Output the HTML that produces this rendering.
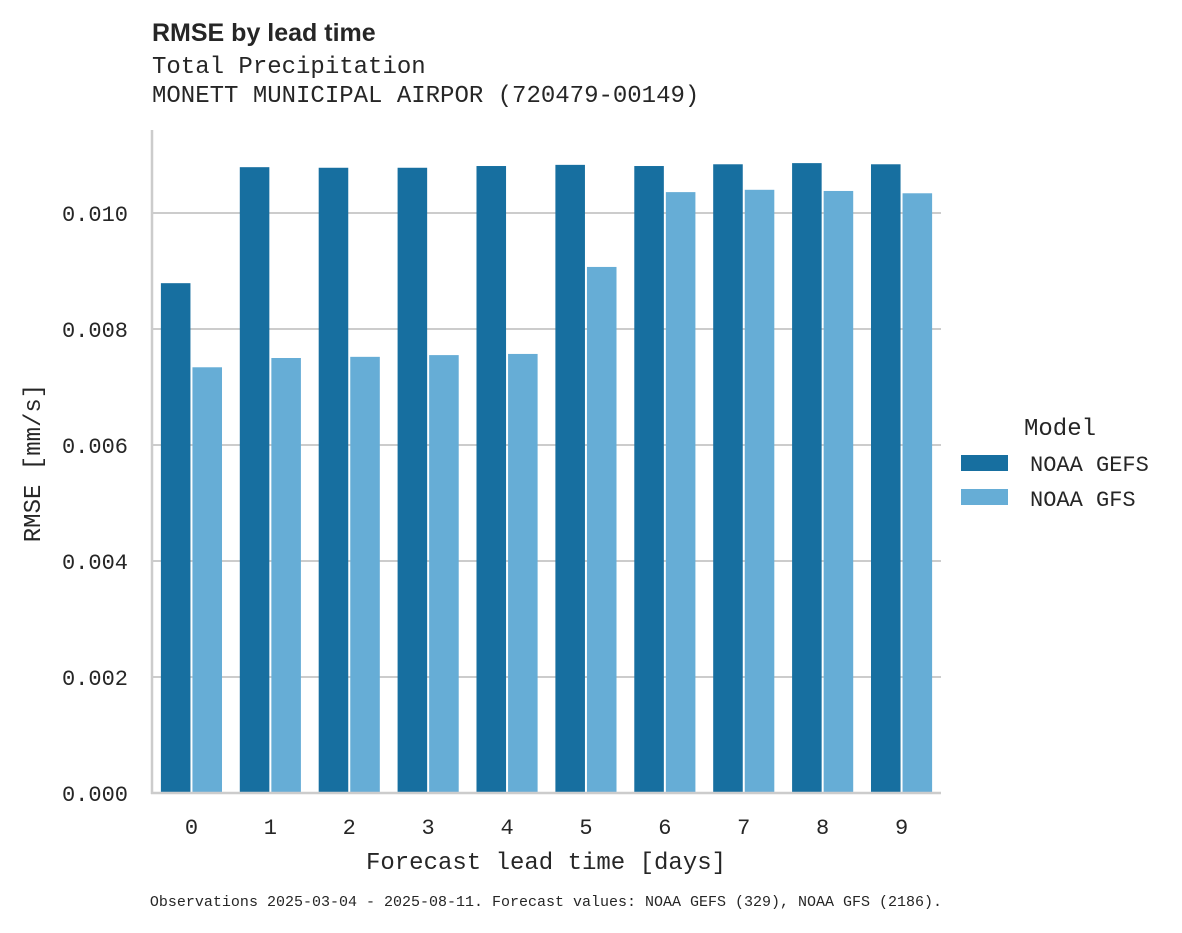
<!DOCTYPE html>
<html><head><meta charset="utf-8"><style>
body{margin:0;background:#fff;width:1182px;height:928px;overflow:hidden}
text{fill:#262626}
.mono{font-family:"Liberation Mono","DejaVu Sans Mono",monospace}
</style></head><body>
<svg id="chart" width="1182" height="928" xmlns="http://www.w3.org/2000/svg">
<text x="152" y="41" font-family="Liberation Sans, DejaVu Sans, sans-serif" font-weight="bold" font-size="25">RMSE by lead time</text>
<text class="mono" x="152" y="73" font-size="24">Total Precipitation</text>
<text class="mono" x="152" y="102" font-size="24">MONETT MUNICIPAL AIRPOR (720479-00149)</text>
<g id="grid"></g>
<g id="bars"></g>
<line x1="152" y1="130" x2="152" y2="794" stroke="#cccccc" stroke-width="2.5"/>
<line x1="151" y1="793" x2="941" y2="793" stroke="#cccccc" stroke-width="2.5"/>
<g id="ticks"></g>
<text class="mono" x="546" y="869" font-size="24" text-anchor="middle">Forecast lead time [days]</text>
<text class="mono" x="40" y="463" font-size="24" text-anchor="middle" transform="rotate(-90 40 463)">RMSE [mm/s]</text>
<g>
<text class="mono" x="1060" y="435" font-size="24" text-anchor="middle">Model</text>
<rect x="961" y="455" width="47" height="16" fill="#176fa0"/>
<text class="mono" x="1030" y="471" font-size="22">NOAA GEFS</text>
<rect x="961" y="489" width="47" height="16" fill="#66add6"/>
<text class="mono" x="1030" y="506" font-size="22">NOAA GFS</text>
</g>
<text class="mono" x="546" y="906" font-size="15" text-anchor="middle">Observations 2025-03-04 - 2025-08-11. Forecast values: NOAA GEFS (329), NOAA GFS (2186).</text>
</svg>
<script>
const categories=["0","1","2","3","4","5","6","7","8","9"];
const gefsValues=[0.00879,0.01079,0.01078,0.01078,0.01081,0.01083,0.01081,0.01084,0.01086,0.01084];
const gfsValues=[0.00734,0.00750,0.00752,0.00755,0.00757,0.00907,0.01036,0.01040,0.01038,0.01034];
const yTicks=[0,0.002,0.004,0.006,0.008,0.010];
const yTickLabels=["0.000","0.002","0.004","0.006","0.008","0.010"];
const NS="http://www.w3.org/2000/svg";
const x0=152,x1=941,y0=793,pxPerUnit=58000;
const band=(x1-x0)/categories.length;
function xBand(i){return x0+i*band;}
function y(v){return y0-v*pxPerUnit;}
const grid=document.getElementById('grid'),bars=document.getElementById('bars'),ticks=document.getElementById('ticks');
yTicks.forEach((t,i)=>{
  if(t>0){const l=document.createElementNS(NS,'line');
  l.setAttribute('x1',x0);l.setAttribute('x2',x1);l.setAttribute('y1',y(t));l.setAttribute('y2',y(t));
  l.setAttribute('stroke','#cccccc');l.setAttribute('stroke-width','2');
  
  
  grid.appendChild(l);}
  const tx=document.createElementNS(NS,'text');
  tx.setAttribute('x',128);tx.setAttribute('y',y(t)+8);tx.setAttribute('text-anchor','end');
  tx.setAttribute('font-size','22');tx.setAttribute('class','mono');tx.textContent=yTickLabels[i];
  
  
  ticks.appendChild(tx);
});
categories.forEach((c,i)=>{
  const bx=xBand(i)+band*0.1,w=band*0.4;
  [[gefsValues[i],'#176fa0','bar-gefs-'+c,0],[gfsValues[i],'#66add6','bar-gfs-'+c,1]].forEach(([v,col,nm,k])=>{
    const r=document.createElementNS(NS,'rect');
    r.setAttribute('x',bx+k*w+1);r.setAttribute('width',w-2);
    r.setAttribute('y',y(v));r.setAttribute('height',y0-y(v));r.setAttribute('fill',col);
    
    
    bars.appendChild(r);
  });
  const tx=document.createElementNS(NS,'text');
  tx.setAttribute('x',xBand(i)+band/2);tx.setAttribute('y',834);tx.setAttribute('text-anchor','middle');
  tx.setAttribute('font-size','22');tx.setAttribute('class','mono');tx.textContent=c;
  
  
  ticks.appendChild(tx);
});
</script>
</body></html>
